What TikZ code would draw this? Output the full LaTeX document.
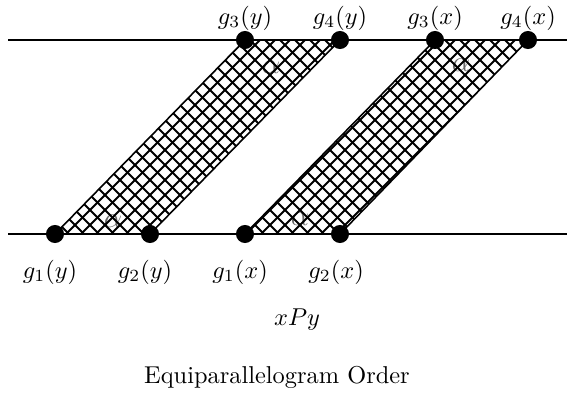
\documentclass[tikz,border=0pt]{standalone}
\begin{document}
\begin{tikzpicture}[x=0.41pt,y=-0.41pt,
  dot/.style={circle,fill=black,inner sep=0pt,minimum size=7.4pt},
  lab/.style={inner sep=0pt},
  alab/.style={inner sep=0pt,text=black!60,font=\large},
  hatch/.style={line width=0.8pt},
  edge/.style={line width=0.65pt}]
\useasboundingbox (0,0) rectangle (567,398);
% line ends
\coordinate (tl) at (8,40); \coordinate (tr) at (567,40);
\coordinate (bl) at (8,234); \coordinate (br) at (567,234);
% alpha labels under the hatching
\node[alab] (a1) at (271,67) {$\alpha$};
\node[alab] (a2) at (113,221) {$\alpha$};
\node[alab] (a3) at (461,65) {$\alpha$};
\node[alab] (a4) at (300,219) {$\alpha$};
% hatching
\begin{scope}
\clip (55,234) -- (150,234) -- (340,40) -- (245,40) -- cycle;
\foreach \c in {0,15,...,900} {
  \draw[hatch] (\c-300,300) -- (\c+300,-300);
  \draw[hatch] (\c-600,-300) -- (\c,300);
}
\end{scope}
\begin{scope}
\clip (245,234) -- (340,234) -- (528,40) -- (435,40) -- cycle;
\foreach \c in {0,15,...,1100} {
  \draw[hatch] (\c-300,300) -- (\c+300,-300);
  \draw[hatch] (\c-600,-300) -- (\c,300);
}
\end{scope}
% dots
\node[dot] (g1y) at (55,234) {};
\node[dot] (g2y) at (150,234) {};
\node[dot] (g1x) at (245,234) {};
\node[dot] (g2x) at (340,234) {};
\node[dot] (g3y) at (245,40) {};
\node[dot] (g4y) at (340,40) {};
\node[dot] (g3x) at (435,40) {};
\node[dot] (g4x) at (528,40) {};
% parallelogram edges
\draw[edge] (g1y.center) -- (g3y.center);
\draw[edge] (g2y.center) -- (g4y.center);
\draw[edge] (g1x.center) -- (g3x.center);
\draw[edge] (g2x.center) -- (g4x.center);
% horizontal lines
\draw[edge] (tl) -- (tr);
\draw[edge] (bl) -- (br);
% labels
\node[lab] (l3y) at (245,18) {$g_3(y)$};
\node[lab] (l4y) at (340,18) {$g_4(y)$};
\node[lab] (l3x) at (435,18) {$g_3(x)$};
\node[lab] (l4x) at (528,18) {$g_4(x)$};
\node[lab] (l1y) at (50,272) {$g_1(y)$};
\node[lab] (l2y) at (145,272) {$g_2(y)$};
\node[lab] (l1x) at (240,272) {$g_1(x)$};
\node[lab] (l2x) at (336,272) {$g_2(x)$};
\node[lab] (xpy) at (297,320) {$xPy$};
\node[lab] (cap) at (277,377) {Equiparallelogram Order};
\end{tikzpicture}
\end{document}
